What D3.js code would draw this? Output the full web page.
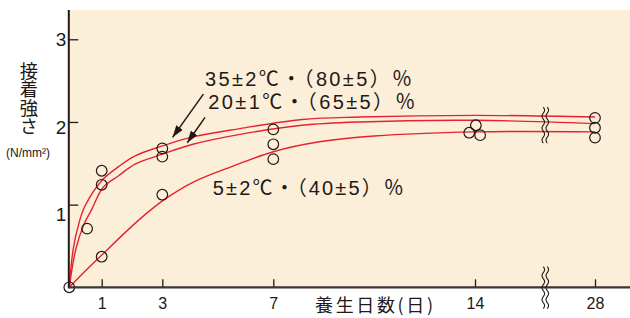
<!DOCTYPE html>
<html>
<head>
<meta charset="utf-8">
<script src="https://cdn.jsdelivr.net/npm/d3@7"></script>
<style>
body { margin: 0; background: #fff; }
svg { display: block; }
</style>
</head>
<body>
<div id="chart"></div>
<script>
// values: curing days vs bond strength (N/mm2)
var dayTicks = [1, 3, 7, 14, 28];
var strengthTicks = [1, 2, 3];

var curve35 = [[0, 0], [0.12, 0.46], [0.3, 0.78], [0.48, 0.98], [1, 1.29], [1.56, 1.46], [2.1, 1.59], [3, 1.71],
    [4.1, 1.82], [5.8, 1.92], [8, 2.03], [10, 2.06], [14, 2.08], [28, 2.06]];
var curve20 = [[0, 0], [0.2, 0.46], [0.45, 0.76], [0.69, 0.94], [1.05, 1.21], [1.56, 1.35], [2.1, 1.49], [3, 1.61],
    [4.1, 1.73], [5.8, 1.85], [8, 1.96], [10, 2.0], [14, 2.02], [28, 1.98]];
var curve5 = [[0, 0], [0.5, 0.2], [1, 0.39], [2, 0.74], [2.6, 0.93], [3.2, 1.09], [4.1, 1.27], [5.5, 1.46], [7, 1.64],
    [8.6, 1.76], [10.5, 1.83], [14, 1.88], [28, 1.88]];

var obsDays = [0, 0.55, 1, 1, 1, 3, 3, 3, 7, 7, 7, 13.8, 14.1, 14.6, 28, 28, 28];
var obsStrength = [0, 0.71, 1.41, 1.24, 0.37, 1.68, 1.58, 1.12, 1.91, 1.73, 1.55, 1.87, 1.96, 1.84, 2.05, 1.93, 1.81];

var curveLabels = ["35±2℃・（80±5）％", "20±1℃・（65±5）％", "5±2℃・（40±5）％"];
var breakDay = 22.2;

//Setup
var width = 630, height = 318;
var ink = "#231815", red = "#e8212e", cream = "#fcefd9";

var x = d3.scaleLinear().domain([0, 1, 3, 7, 14, 28]).range([69.3, 101.7, 162.3, 273.3, 475, 595]);
var y = d3.scaleLinear().domain([0, 3]).range([287.3, 39.3]);

var svg = d3.select("#chart").append("svg")
    .attr("width", width)
    .attr("height", height);

svg.append("defs").append("marker")
    .attr("id", "head")
    .attr("markerUnits", "userSpaceOnUse")
    .attr("markerWidth", 12).attr("markerHeight", 8)
    .attr("refX", 12).attr("refY", 4)
    .attr("orient", "auto")
    .append("path")
    .attr("d", "M0,0 L12,4 L0,8 Z")
    .attr("fill", ink);

// plot background
svg.append("rect")
    .attr("x", x(0)).attr("y", 10)
    .attr("width", width - x(0)).attr("height", y(0) - 10)
    .attr("fill", cream);

// curves
var line = d3.line()
    .x(function (d) { return x(d[0]); })
    .y(function (d) { return y(d[1]); })
    .curve(d3.curveCatmullRom.alpha(0.5));

svg.selectAll(".curve")
    .data([curve35, curve20, curve5])
    .enter().append("path")
    .attr("class", "curve")
    .attr("d", line)
    .attr("fill", "none")
    .attr("stroke", red)
    .attr("stroke-width", 1.4);

// observations
svg.selectAll(".obs")
    .data(obsDays)
    .enter().append("circle")
    .attr("class", "obs")
    .attr("cx", function (d) { return x(d); })
    .attr("cy", function (d, i) { return y(obsStrength[i]); })
    .attr("r", 5.3)
    .attr("fill", "none")
    .attr("stroke", ink)
    .attr("stroke-width", 1.2);

// axes
var xAxis = d3.axisBottom(x).tickValues(dayTicks).tickFormat(d3.format("d"))
    .tickSizeInner(-8).tickSizeOuter(0).tickPadding(10);
var gx = svg.append("g").attr("transform", "translate(0," + y(0) + ")").call(xAxis);
gx.select(".domain").remove();
gx.selectAll("line").attr("stroke", ink).attr("stroke-width", 1.3);
gx.selectAll("text").attr("fill", ink).attr("font-size", 16).attr("font-family", "Liberation Sans, Arial, sans-serif");

var yAxis = d3.axisLeft(y).tickValues(strengthTicks).tickFormat(d3.format("d"))
    .tickSizeInner(-9).tickSizeOuter(0).tickPadding(3);
var gy = svg.append("g").attr("transform", "translate(" + x(0) + ",0)").call(yAxis);
gy.select(".domain").remove();
gy.selectAll("line").attr("stroke", ink).attr("stroke-width", 1.3);
gy.selectAll("text")
    .attr("fill", ink)
    .attr("font-size", 19)
    .attr("font-family", "Liberation Sans, Arial, sans-serif")
    .attr("dy", function (d) { return (0.32 + (3 - d) * 0.27) + "em"; });

svg.append("line")
    .attr("x1", x(0) - 0.5).attr("x2", x(0) - 0.5)
    .attr("y1", 10).attr("y2", y(0) + 1)
    .attr("stroke", ink).attr("stroke-width", 2);
svg.append("line")
    .attr("x1", x(0) - 1).attr("x2", width)
    .attr("y1", y(0)).attr("y2", y(0))
    .attr("stroke", "#3a3634").attr("stroke-width", 2.2);

// axis break marks
function wavy(px, top, bottom) {
    var p = "M" + px + "," + top, s = 1;
    for (var yy = top; yy < bottom; yy += 6) {
        p += " q" + (2.6 * s) + ",3 0,6";
        s = -s;
    }
    return p;
}
[[2.18, 1.75], [0.25, -0.21]].forEach(function (r) {
    [-2, 2].forEach(function (off) {
        svg.append("path")
            .attr("d", wavy(x(breakDay) + off, y(r[0]), y(r[1])))
            .attr("fill", "none")
            .attr("stroke", ink)
            .attr("stroke-width", 1.1);
    });
});

// curve labels and arrows
var labelAnchors = [[4.54, 2.434, 207], [4.66, 2.155, 207], [4.82, 1.116, 191]];
svg.selectAll(".lbl")
    .data(curveLabels)
    .enter().append("text")
    .attr("class", "lbl")
    .attr("x", function (d, i) { return x(labelAnchors[i][0]); })
    .attr("y", function (d, i) { return y(labelAnchors[i][1]); })
    .attr("textLength", function (d, i) { return labelAnchors[i][2]; })
    .attr("lengthAdjust", "spacing")
    .attr("font-size", 20)
    .attr("font-family", "Liberation Sans, Noto Sans CJK JP, sans-serif")
    .attr("fill", ink)
    .text(function (d) { return d; });

var arrows = [[[4.48, 2.337], [3.37, 1.814]], [[4.54, 2.056], [3.9, 1.749]]];
svg.selectAll(".arrow")
    .data(arrows)
    .enter().append("line")
    .attr("class", "arrow")
    .attr("x1", function (d) { return x(d[0][0]); })
    .attr("y1", function (d) { return y(d[0][1]); })
    .attr("x2", function (d) { return x(d[1][0]); })
    .attr("y2", function (d) { return y(d[1][1]); })
    .attr("stroke", ink)
    .attr("stroke-width", 1.5)
    .attr("marker-end", "url(#head)");

// axis titles
svg.append("text")
    .attr("x", 29).attr("y", 62)
    .style("writing-mode", "vertical-rl")
    .attr("font-size", 18.3)
    .attr("font-family", "Noto Sans CJK JP, sans-serif")
    .attr("fill", ink)
    .text("接着強さ");
svg.append("text")
    .attr("x", 28).attr("y", 157)
    .attr("text-anchor", "middle")
    .attr("font-size", 12)
    .attr("font-family", "Liberation Sans, Arial, sans-serif")
    .attr("fill", ink)
    .text("(N/mm²)");

svg.append("text")
    .attr("x", 315).attr("y", 312)
    .attr("textLength", 118)
    .attr("lengthAdjust", "spacing")
    .attr("font-size", 18)
    .attr("font-family", "Noto Sans CJK JP, sans-serif")
    .attr("fill", ink)
    .text("養生日数(日)");
</script>
</body>
</html>
